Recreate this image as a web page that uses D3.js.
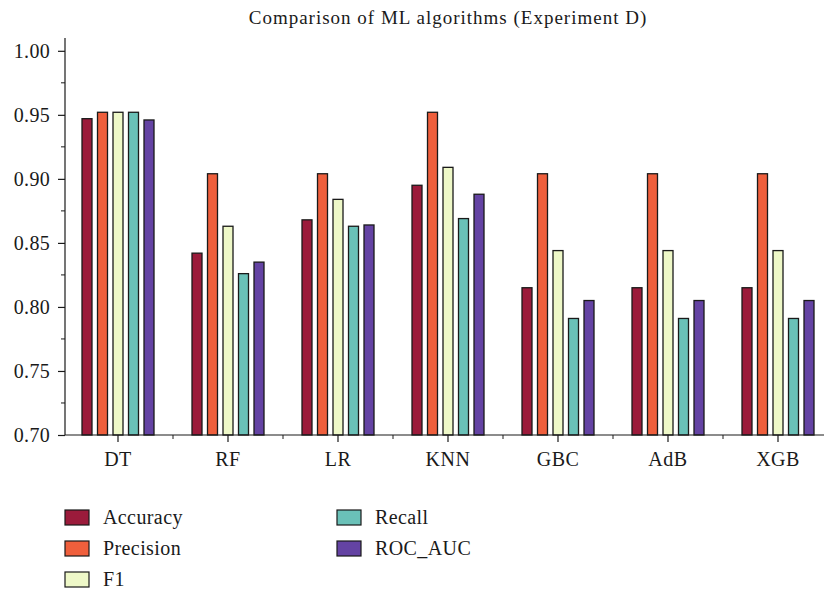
<!DOCTYPE html>
<html>
<head>
<meta charset="utf-8">
<script src="https://cdn.jsdelivr.net/npm/d3@7"></script>
<style>
  body { margin: 0; background: #fff; }
  text { font-family: "Liberation Serif", "DejaVu Serif", serif; fill: #1a1a1a; }
</style>
</head>
<body>
<div id="chart"></div>
<script>
// chart data
var models = ["DT", "RF", "LR", "KNN", "GBC", "AdB", "XGB"];
var metrics = ["Accuracy", "Precision", "F1", "Recall", "ROC_AUC"];
var accuracy  = [0.947, 0.842, 0.868, 0.895, 0.815, 0.815, 0.815];
var precision = [0.952, 0.904, 0.904, 0.952, 0.904, 0.904, 0.904];
var f1        = [0.952, 0.863, 0.884, 0.909, 0.844, 0.844, 0.844];
var recall    = [0.952, 0.826, 0.863, 0.869, 0.791, 0.791, 0.791];
var rocAuc    = [0.946, 0.835, 0.864, 0.888, 0.805, 0.805, 0.805];
var yTicks = [0.70, 0.75, 0.80, 0.85, 0.90, 0.95, 1.00];
var colors = ["#9b1b3b", "#ef5f3c", "#eef8c8", "#6ac1b8", "#6443a3"];

var seriesValues = [accuracy, precision, f1, recall, rocAuc];

var svgWidth = 824;
var svgHeight = 593;

var svg = d3.select("#chart")
  .append("svg")
  .attr("width", svgWidth)
  .attr("height", svgHeight);

// scales
var xScale = d3.scaleBand()
  .domain(models)
  .range([63, 833])
  .paddingInner(0)
  .paddingOuter(0);

var yScale = d3.scaleLinear()
  .domain([0.70, 1.01])
  .range([435, 38]);

var barStep = 15.5;
var barWidth = 10;

// title
svg.append("text")
  .attr("x", 448)
  .attr("y", 24)
  .attr("text-anchor", "middle")
  .attr("font-size", "19px")
  .attr("letter-spacing", "1px")
  .text("Comparison of ML algorithms (Experiment D)");

// bars
var barData = [];
models.forEach(function(m, i) {
  metrics.forEach(function(s, j) {
    barData.push({ model: m, metric: j, value: seriesValues[j][i] });
  });
});

svg.append("g")
  .selectAll("rect")
  .data(barData)
  .enter()
  .append("rect")
  .attr("x", d => xScale(d.model) + xScale.bandwidth() / 2 + (d.metric - 2) * barStep - barWidth / 2)
  .attr("y", d => yScale(d.value))
  .attr("width", barWidth)
  .attr("height", d => yScale(0.70) - yScale(d.value))
  .attr("fill", d => colors[d.metric])
  .attr("stroke", "#1a1a1a")
  .attr("stroke-width", 1.3);

// y axis
var leftAxis = d3.axisLeft(yScale)
  .tickValues(yTicks)
  .tickFormat(d3.format(".2f"))
  .tickSize(7)
  .tickPadding(8);

var yAxis = svg.append("g")
  .attr("transform", "translate(65, 0)")
  .call(leftAxis);

yAxis.select(".domain").attr("d", "M0," + yScale(1.01) + "V" + yScale(0.70));
yAxis.selectAll("text")
  .attr("font-size", "20px")
  .attr("letter-spacing", "0.3px")
  .attr("font-family", "Liberation Serif");

// minor y ticks
var yMinor = yTicks.slice(0, -1).map(d => d + 0.025);
yAxis.selectAll(".minor")
  .data(yMinor)
  .enter()
  .append("line")
  .attr("x1", 0)
  .attr("x2", -4)
  .attr("y1", d => yScale(d))
  .attr("y2", d => yScale(d))
  .attr("stroke", "#1a1a1a");

// x axis
var bottomAxis = d3.axisBottom(xScale)
  .tickSize(7)
  .tickPadding(10);

var xAxis = svg.append("g")
  .attr("transform", "translate(0, " + yScale(0.70) + ")")
  .call(bottomAxis);

xAxis.select(".domain").attr("d", "M65,0H824");
xAxis.selectAll("text")
  .attr("font-size", "20px")
  .attr("letter-spacing", "0.5px")
  .attr("font-family", "Liberation Serif");

// minor x ticks at band edges
xAxis.selectAll(".minor")
  .data(models.slice(1))
  .enter()
  .append("line")
  .attr("x1", d => xScale(d))
  .attr("x2", d => xScale(d))
  .attr("y1", 0)
  .attr("y2", 4)
  .attr("stroke", "#1a1a1a");

svg.selectAll(".domain, .tick line").attr("stroke", "#1a1a1a").attr("stroke-width", 1.2);

// legend
var legendPos = [
  { x: 65, y: 510 }, { x: 65, y: 541 }, { x: 65, y: 572 },
  { x: 337, y: 510 }, { x: 337, y: 541 }
];

var legend = svg.append("g")
  .selectAll("g")
  .data(metrics)
  .enter()
  .append("g")
  .attr("transform", (d, i) => "translate(" + legendPos[i].x + "," + legendPos[i].y + ")");

legend.append("rect")
  .attr("width", 24)
  .attr("height", 15)
  .attr("fill", (d, i) => colors[i])
  .attr("stroke", "#1a1a1a")
  .attr("stroke-width", 1.2);

legend.append("text")
  .attr("x", 38)
  .attr("y", 14)
  .attr("font-size", "20px")
  .attr("letter-spacing", "0.4px")
  .text(d => d);
</script>
</body>
</html>
